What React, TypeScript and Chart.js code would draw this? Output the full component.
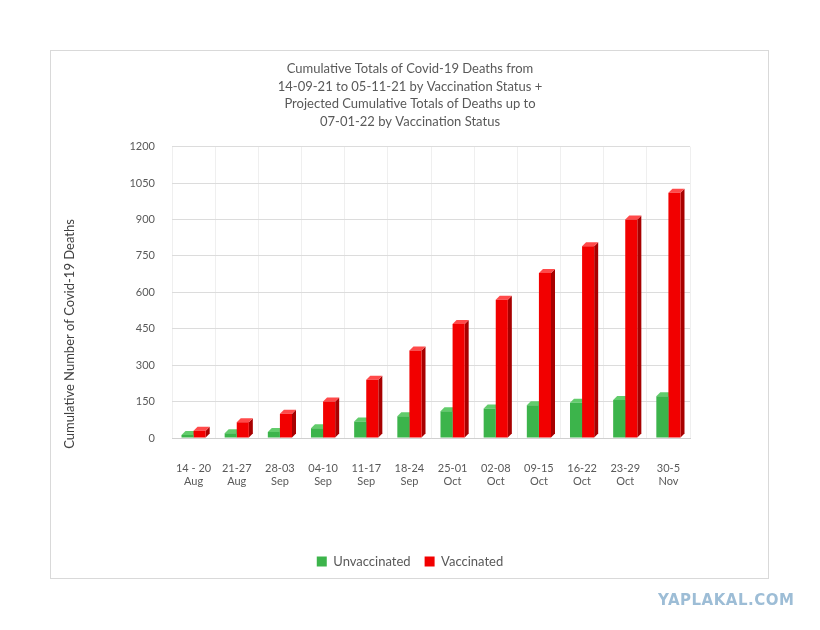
import React, { useEffect, useRef } from "react";
import { Chart, registerables } from "chart.js";

Chart.register(...registerables);

const categories: string[][] = [
  ["14 - 20", "Aug"],
  ["21-27", "Aug"],
  ["28-03", "Sep"],
  ["04-10", "Sep"],
  ["11-17", "Sep"],
  ["18-24", "Sep"],
  ["25-01", "Oct"],
  ["02-08", "Oct"],
  ["09-15", "Oct"],
  ["16-22", "Oct"],
  ["23-29", "Oct"],
  ["30-5", "Nov"],
];

const unvaccinated: number[] = [12, 20, 25, 40, 68, 90, 110, 122, 135, 145, 157, 172];
const vaccinated: number[] = [30, 65, 100, 150, 240, 360, 470, 570, 680, 790, 900, 1010];

const titleLines: string[] = [
  "Cumulative Totals of Covid-19 Deaths from",
  "14-09-21 to 05-11-21 by Vaccination Status +",
  "Projected Cumulative Totals of Deaths up to",
  "07-01-22 by Vaccination Status",
];

const yAxisTitle = "Cumulative Number of Covid-19 Deaths";
const seriesNames: string[] = ["Unvaccinated", "Vaccinated"];

const FONT = "Lato, 'Open Sans', sans-serif";

const frontColors = ["#3cb44b", "#f20000"];
const sideColors = ["#23883a", "#a80000"];
const topColors = ["#62cc6c", "#ff4a4a"];

const depth3d = {
  id: "depth3d",
  beforeDatasetsDraw(chart: any) {
    const ctx = chart.ctx;
    const dx = 4;
    const dy = 4;
    ctx.save();
    chart.data.datasets.forEach((_ds: any, di: number) => {
      const meta = chart.getDatasetMeta(di);
      if (meta.hidden) return;
      meta.data.forEach((bar: any) => {
        const { x, y, base, width } = bar.getProps(["x", "y", "base", "width"], true);
        const l = x - width / 2;
        const r = x + width / 2;
        ctx.fillStyle = sideColors[di];
        ctx.beginPath();
        ctx.moveTo(r, y);
        ctx.lineTo(r + dx, y - dy);
        ctx.lineTo(r + dx, base - dy);
        ctx.lineTo(r, base);
        ctx.closePath();
        ctx.fill();
        ctx.fillStyle = topColors[di];
        ctx.beginPath();
        ctx.moveTo(l, y);
        ctx.lineTo(l + dx, y - dy);
        ctx.lineTo(r + dx, y - dy);
        ctx.lineTo(r, y);
        ctx.closePath();
        ctx.fill();
      });
    });
    ctx.restore();
  },
};

const yTitlePlugin = {
  id: "yTitlePlugin",
  afterDraw(chart: any) {
    const ctx = chart.ctx;
    ctx.save();
    ctx.translate(70, 334);
    ctx.rotate(-Math.PI / 2);
    ctx.fillStyle = "#404040";
    ctx.font = `13px ${FONT}`;
    ctx.textAlign = "center";
    ctx.textBaseline = "middle";
    ctx.fillText(yAxisTitle, 0, 0);
    ctx.restore();
  },
};

export default function App() {
  const canvasRef = useRef<HTMLCanvasElement | null>(null);

  useEffect(() => {
    if (!canvasRef.current) return;
    const chart = new Chart(canvasRef.current, {
      type: "bar",
      data: {
        labels: categories,
        datasets: [
          {
            label: seriesNames[0],
            data: unvaccinated,
            backgroundColor: frontColors[0],
            borderWidth: 0,
            categoryPercentage: 0.56,
            barPercentage: 1.0,
          },
          {
            label: seriesNames[1],
            data: vaccinated,
            backgroundColor: frontColors[1],
            borderWidth: 0,
            categoryPercentage: 0.56,
            barPercentage: 1.0,
          },
        ],
      },
      plugins: [depth3d, yTitlePlugin],
      options: {
        animation: false,
        responsive: false,
        maintainAspectRatio: false,
        layout: { padding: { top: 60, bottom: 52, left: 58, right: 58 } },
        plugins: {
          title: {
            display: true,
            text: titleLines,
            color: "#595959",
            font: { family: FONT, size: 13, weight: "normal", lineHeight: 1.36 },
            padding: { top: 0, bottom: 16 },
          },
          legend: {
            display: true,
            position: "bottom",
            labels: {
              color: "#595959",
              font: { family: FONT, size: 13 },
              boxWidth: 10,
              boxHeight: 10,
              padding: 14,
            },
          },
          tooltip: { enabled: false },
        },
        scales: {
          x: {
            grid: { color: "#efefef", drawTicks: false },
            border: { color: "#d0d0d0" },
            ticks: {
              color: "#595959",
              font: { family: FONT, size: 11 },
              padding: 24,
              maxRotation: 0,
              autoSkip: false,
            },
            afterFit: (scale: any) => {
              scale.height = 103;
            },
          },
          y: {
            min: 0,
            max: 1200,
            ticks: {
              stepSize: 150,
              color: "#595959",
              font: { family: FONT, size: 11 },
              padding: 17,
              callback: (v: any) => String(v),
            },
            grid: { color: "#dcdcdc", drawTicks: false },
            border: { display: false },
            afterFit: (scale: any) => {
              scale.width = 114;
            },
          },
          yRight: {
            position: "right",
            display: true,
            min: 0,
            max: 1200,
            ticks: { display: false },
            grid: { display: false, drawTicks: false },
            border: { display: false },
            afterFit: (scale: any) => {
              scale.width = 72;
            },
          },
        },
      },
    });
    return () => chart.destroy();
  }, []);

  return (
    <div style={{ position: "fixed", left: 0, top: 0, width: 820, height: 630, background: "#ffffff" }}>
      <div
        style={{
          position: "absolute",
          left: 50,
          top: 50,
          width: 719,
          height: 529,
          border: "1px solid #d9d9d9",
          boxSizing: "border-box",
        }}
      />
      <canvas
        ref={canvasRef}
        width={820}
        height={630}
        style={{ position: "absolute", left: 0, top: 0, width: 820, height: 630 }}
      />
      <div
        style={{
          position: "absolute",
          left: 658,
          top: 591,
          fontFamily: "'DejaVu Sans', sans-serif",
          fontWeight: 900,
          fontSize: 15,
          color: "#9dbdd6",
          letterSpacing: 0.5,
        }}
      >
        YAPLAKAL.COM
      </div>
    </div>
  );
}
